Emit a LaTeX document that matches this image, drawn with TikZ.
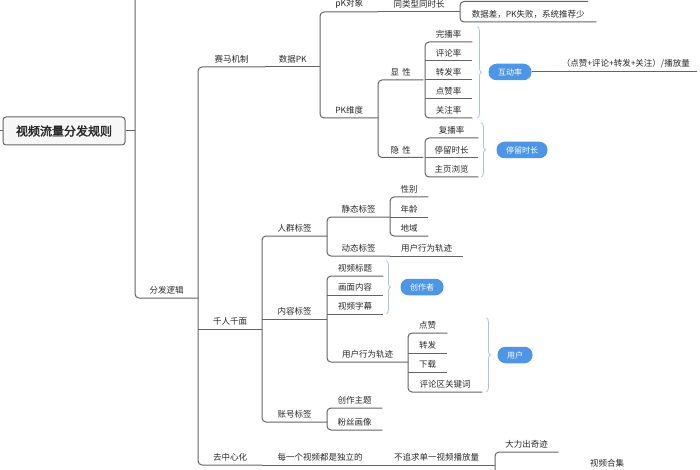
\documentclass[tikz,border=0pt]{standalone}
\usepackage{fontspec}
\newfontfamily\cjk[AutoFakeBold=2.5]{Noto Sans CJK SC}
\usepackage{tikz}
\usetikzlibrary{positioning,decorations.pathreplacing,calc}

\definecolor{linegray}{RGB}{100,100,100}
\definecolor{ink}{RGB}{40,40,40}
\definecolor{bubblue}{RGB}{77,150,230}
\definecolor{bracecol}{RGB}{170,195,225}

\begin{document}
\begin{tikzpicture}[
    x=1pt, y=-1pt,
    font=\cjk\fontsize{8.5}{10}\selectfont,
    topic/.style={anchor=south west, inner xsep=0pt, inner ysep=3.5pt, text=ink},
    rootbox/.style={draw=linegray, fill=gray!6, rounded corners=3pt, line width=1pt, minimum width=122pt, minimum height=28pt, font=\cjk\bfseries\fontsize{12}{14}\selectfont, text=ink},
    bubble/.style={fill=bubblue, text=white, rounded corners=8pt, minimum height=16.5pt, inner xsep=9.5pt, inner ysep=0pt, font=\cjk\fontsize{8}{9}\selectfont},
    link/.style={draw=linegray, line width=1pt, rounded corners=4pt},
    summary/.style={draw=bracecol, line width=0.8pt, decorate, decoration={brace, amplitude=4pt}}
]
\useasboundingbox (0,0) rectangle (700,470);
\clip (0,0) rectangle (700,470);

% root and trunk
\node[rootbox] (root) at (64,131) {视频流量分发规则};
\coordinate (leftcut) at (0,131);
\coordinate (trunktop) at (135,0);
\node[topic, minimum width=63pt] (fenfa) at (135,298) {分发逻辑};

% 赛马机制
\node[topic, minimum width=67pt] (saima) at (198,67) {赛马机制};
\node[topic, minimum width=55pt] (shujupk) at (265,67) {数据PK};
\node[topic, minimum width=58pt] (pkobj) at (320,12) {pK对象};
\node[topic, minimum width=82pt] (tongtype) at (378,12) {同类型同时长};
\coordinate (hidtop) at (588,1.5);
\node[topic, minimum width=136pt] (shujucha) at (460,22) {数据差，PK失败，系统推荐少};
\node[topic, minimum width=58pt] (pkdim) at (320,118) {PK维度};
\node[topic, minimum width=45pt] (xian) at (378,80) {显\hspace{0.4em}性};
\node[topic, minimum width=45pt] (yin) at (378,157.5) {隐\hspace{0.4em}性};
\node[topic, minimum width=47pt] (wanbo) at (425,42) {完播率};
\node[topic, minimum width=47pt] (pinglun) at (425,61) {评论率};
\node[topic, minimum width=47pt] (zhuanfa) at (425,80) {转发率};
\node[topic, minimum width=47pt] (dianzan) at (425,99) {点赞率};
\node[topic, minimum width=47pt] (guanzhu) at (425,118) {关注率};
\node[topic, minimum width=53pt] (fubo) at (425,138) {复播率};
\node[topic, minimum width=53pt] (tingliu) at (425,157.5) {停留时长};
\node[topic, minimum width=53pt] (zhuye) at (425,177) {主页浏览};
\node[bubble] (hudong) at (510,72) {互动率};
\node[topic, anchor=south east, inner xsep=7pt] (formula) at (697,72) {（点赞+评论+转发+关注）/播放量};
\node[bubble] (tingliub) at (522,150) {停留时长};

% 千人千面
\node[topic, minimum width=64pt] (qianren) at (198,329) {千人千面};
\node[topic, minimum width=65pt] (renqun) at (262,236) {人群标签};
\node[topic, minimum width=63pt] (jingtai) at (327,217) {静态标签};
\node[topic, minimum width=38pt] (xingbie) at (390,197) {性别};
\node[topic, minimum width=38pt] (nianling) at (390,217) {年龄};
\node[topic, minimum width=38pt] (diyu) at (390,236) {地域};
\node[topic, minimum width=63pt] (dongtai) at (327,256) {动态标签};
\node[topic, minimum width=73pt] (guiji) at (390,256) {用户行为轨迹};
\node[topic, minimum width=65pt] (neirong) at (262,319) {内容标签};
\node[topic, minimum width=56pt] (biaoti) at (327,276) {视频标题};
\node[topic, minimum width=56pt] (huamian) at (327,295) {画面内容};
\node[topic, minimum width=56pt] (zimu) at (327,314) {视频字幕};
\node[topic, minimum width=81pt] (xingwei) at (327,362) {用户行为轨迹};
\node[topic, minimum width=39pt] (dz) at (408,333) {点赞};
\node[topic, minimum width=39pt] (zf) at (408,353) {转发};
\node[topic, minimum width=39pt] (xz) at (408,372) {下载};
\node[topic, minimum width=74pt] (plq) at (408,392) {评论区关键词};
\node[bubble] (zuozhe) at (422,287) {创作者};
\node[bubble] (yonghu) at (515,355) {用户};
\node[topic, minimum width=65pt] (zhanghao) at (262,422) {账号标签};
\node[topic, minimum width=55pt] (zhuti) at (327,408) {创作主题};
\node[topic, minimum width=55pt] (fensi) at (327,430) {粉丝画像};

% 去中心化
\node[topic, minimum width=64pt] (quzhong) at (198,465) {去中心化};
\node[topic, minimum width=116pt] (duli) at (262,465) {每一个视频都是独立的};
\node[topic, minimum width=117pt] (buzhui) at (378,465) {不追求单一视频播放量};
\node[topic, minimum width=63pt] (dali) at (495,452) {大力出奇迹};
\coordinate (botcut) at (495,480);
\node[text=ink] (heji) at (607,463) {视频合集};

% connectors
\draw[link] (leftcut) -- (root.west);
\draw[link] (root.east) -- (root.east -| fenfa.south west);
\draw[link] (trunktop) -- (fenfa.south west) -- (fenfa.south east);
\draw[link] (saima.south east) -- (saima.south west) -- (quzhong.south west) -- (quzhong.south east);
\draw[link] (qianren.south west) -- (qianren.south east);
\draw[link] (shujupk.south west) -- (shujupk.south east);
\draw[link] (pkobj.south east) -- (pkobj.south west) -- (pkdim.south west) -- (pkdim.south east);
\draw[link] (tongtype.south west) -- (tongtype.south east);
\draw[link] (hidtop) -- (hidtop -| shujucha.south west) -- (shujucha.south west) -- (shujucha.south east);
\draw[link] (xian.south east) -- (xian.south west) -- (yin.south west) -- (yin.south east);
\draw[link] (wanbo.south east) -- (wanbo.south west) -- (guanzhu.south west) -- (guanzhu.south east);
\foreach \n in {pinglun,zhuanfa,dianzan}
    \draw[link] (\n.south west) -- (\n.south east);
\draw[link] (fubo.south east) -- (fubo.south west) -- (zhuye.south west) -- (zhuye.south east);
\draw[link] (tingliu.south west) -- (tingliu.south east);
\draw[link] (hudong.east) -- (formula.south east);

\draw[link] (renqun.south east) -- (renqun.south west) -- (zhanghao.south west) -- (zhanghao.south east);
\draw[link] (neirong.south west) -- (neirong.south east);
\draw[link] (jingtai.south east) -- (jingtai.south west) -- (dongtai.south west) -- (dongtai.south east);
\draw[link] (xingbie.south east) -- (xingbie.south west) -- (diyu.south west) -- (diyu.south east);
\draw[link] (nianling.south west) -- (nianling.south east);
\draw[link] (guiji.south west) -- (guiji.south east);
\draw[link] (biaoti.south east) -- (biaoti.south west) -- (xingwei.south west) -- (xingwei.south east);
\foreach \n in {huamian,zimu}
    \draw[link] (\n.south west) -- (\n.south east);
\draw[link] (dz.south east) -- (dz.south west) -- (plq.south west) -- (plq.south east);
\foreach \n in {zf,xz}
    \draw[link] (\n.south west) -- (\n.south east);
\draw[link] (zhuti.south east) -- (zhuti.south west) -- (fensi.south west) -- (fensi.south east);

\draw[link] (duli.south west) -- (duli.south east);
\draw[link] (buzhui.south west) -- (buzhui.south east);
\draw[link] (dali.south east) -- (dali.south west) -- (botcut);

% summaries
\draw[summary] ([xshift=5pt]wanbo.north east) -- ([xshift=5pt]guanzhu.south east);
\draw[summary] ([xshift=3pt]fubo.north east) -- ([xshift=3pt]zhuye.south east);
\draw[summary] ([xshift=3pt]biaoti.north east) -- ([xshift=3pt]zimu.south east);
\draw[summary] ([xshift=4pt]plq.south east |- dz.north) -- ([xshift=4pt]plq.south east);

\end{tikzpicture}
\end{document}
